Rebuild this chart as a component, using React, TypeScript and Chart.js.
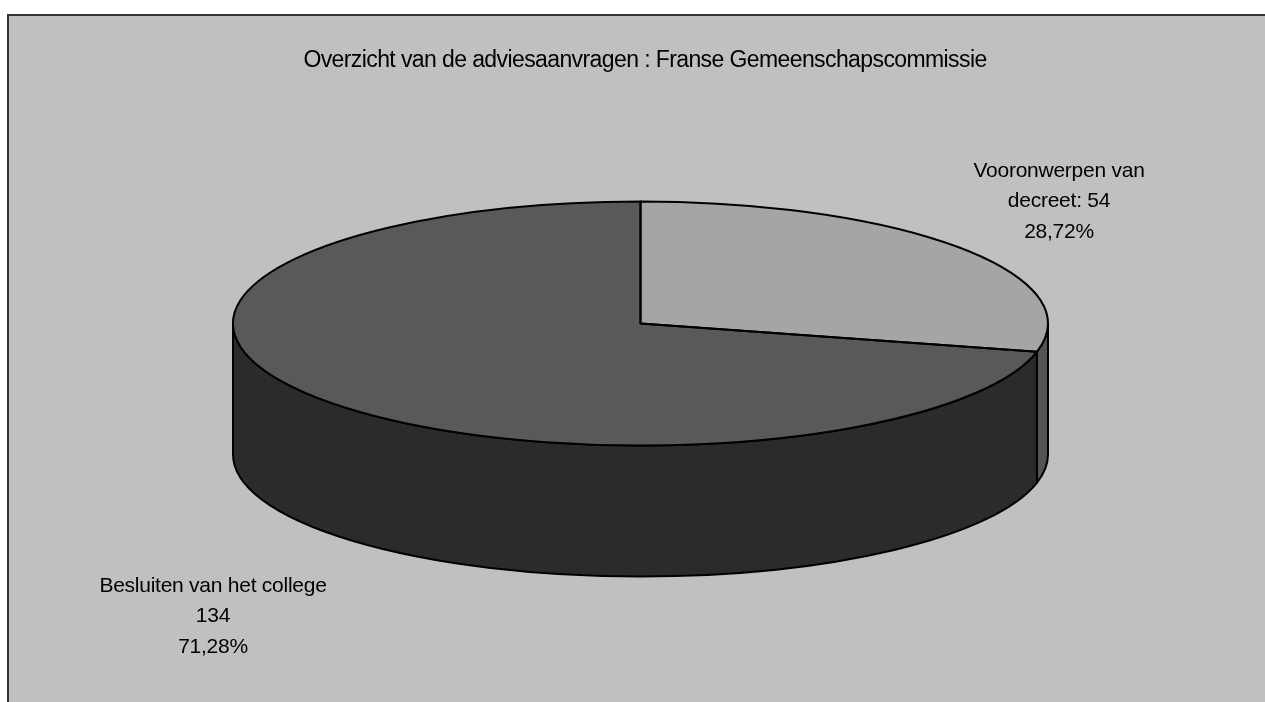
import React, { useEffect, useRef } from "react";
import { Chart, registerables } from "chart.js";

Chart.register(...registerables);

// ---- data ----
const TITLE = "Overzicht van de adviesaanvragen : Franse Gemeenschapscommissie";
const CATEGORIES = ["Vooronwerpen van decreet", "Besluiten van het college"];
const VALUES = [54, 134];
const TOTAL = VALUES.reduce((a, b) => a + b, 0);
const PERCENTS = VALUES.map((v) => ((v / TOTAL) * 100).toFixed(2).replace(".", ",") + "%");
const LABEL_LINES = [
  ["Vooronwerpen van", "decreet: " + VALUES[0], PERCENTS[0]],
  ["Besluiten van het college", String(VALUES[1]), PERCENTS[1]],
];

// ---- style ----
const TOP_COLORS = ["#a5a5a5", "#595959"];
const SIDE_COLORS = ["#545454", "#2b2b2b"];
const BG = "#c0c0c0";
const FONT = '"Liberation Sans", Arial, sans-serif';
const GEOM = { cx: 640.5, cy: 323.5, rx: 407.5, ry: 122, depth: 131 };
const W = 1265;
const H = 702;
const PIE_BOX = 250;

const pie3d = {
  id: "pie3d",
  beforeDatasetsDraw(chart: any) {
    const arcs = chart.getDatasetMeta(0).data;
    chart.$pieSaved = false;
    if (!arcs.length) return;
    const { x: cx, y: cy, outerRadius: R } = arcs[0];
    const ctx = chart.ctx;
    const { rx, ry, depth } = GEOM;
    ctx.save();
    ctx.lineWidth = 2;
    ctx.strokeStyle = "#000";
    ctx.lineJoin = "round";
    arcs.forEach((arc: any, i: number) => {
      const s = arc.startAngle;
      const e = arc.endAngle;
      const segs: number[][] = [];
      for (const k of [-2, 0, 2]) {
        const off = k * Math.PI;
        const a = Math.max(s + off, 0);
        const b = Math.min(e + off, Math.PI);
        if (b > a) segs.push([a, b]);
      }
      segs.forEach(([a, b]) => {
        ctx.beginPath();
        ctx.ellipse(cx, cy, rx, ry, 0, a, b, false);
        ctx.lineTo(cx + rx * Math.cos(b), cy + depth + ry * Math.sin(b));
        ctx.ellipse(cx, cy + depth, rx, ry, 0, b, a, true);
        ctx.closePath();
        ctx.fillStyle = SIDE_COLORS[i];
        ctx.fill();
        ctx.stroke();
      });
    });
    ctx.restore();
    ctx.save();
    ctx.translate(cx, cy);
    ctx.scale(rx / R, ry / R);
    ctx.translate(-cx, -cy);
    chart.$pieSaved = true;
  },
  afterDatasetsDraw(chart: any) {
    const ctx = chart.ctx;
    if (chart.$pieSaved) ctx.restore();
    chart.$pieSaved = false;
    const arcs = chart.getDatasetMeta(0).data;
    if (!arcs.length) return;
    const { x: cx, y: cy } = arcs[0];
    const { rx, ry } = GEOM;
    ctx.save();
    ctx.lineWidth = 2;
    ctx.strokeStyle = "#000";
    ctx.lineJoin = "round";
    arcs.forEach((arc: any) => {
      ctx.beginPath();
      ctx.moveTo(cx, cy);
      ctx.ellipse(cx, cy, rx, ry, 0, arc.startAngle, arc.endAngle, false);
      ctx.closePath();
      ctx.stroke();
    });
    ctx.restore();
  },
  afterDraw(chart: any) {
    const ctx = chart.ctx;
    ctx.save();
    ctx.fillStyle = "#000";
    ctx.textAlign = "center";
    ctx.textBaseline = "alphabetic";
    ctx.font = "23px " + FONT;
    try { (ctx as any).letterSpacing = "-0.6px"; } catch (e) {}
    ctx.fillText(TITLE, 645, 67);
    ctx.font = "21px " + FONT;
    try { (ctx as any).letterSpacing = "-0.25px"; } catch (e) {}
    const anchors = [
      { x: 1059, y: [177, 207, 238] },
      { x: 213, y: [592, 622, 653] },
    ];
    LABEL_LINES.forEach((lines, i) => {
      lines.forEach((t, j) => ctx.fillText(t, anchors[i].x, anchors[i].y[j]));
    });
    ctx.restore();
  },
};

export default function App() {
  const ref = useRef<HTMLCanvasElement>(null);
  useEffect(() => {
    if (!ref.current) return;
    const chart = new Chart(ref.current, {
      type: "pie",
      data: {
        labels: CATEGORIES,
        datasets: [
          {
            data: VALUES,
            backgroundColor: TOP_COLORS,
            borderWidth: 0,
            hoverOffset: 0,
            offset: 0,
            clip: false as any,
          },
        ],
      },
      options: {
        responsive: false,
        animation: false,
        events: [],
        layout: {
          padding: {
            left: GEOM.cx - PIE_BOX,
            right: W - GEOM.cx - PIE_BOX,
            top: GEOM.cy - PIE_BOX,
            bottom: H - GEOM.cy - PIE_BOX,
          },
        },
        plugins: {
          legend: { display: false },
          tooltip: { enabled: false },
          title: { display: false },
        },
      },
      plugins: [pie3d],
    });
    return () => chart.destroy();
  }, []);
  return (
    <div style={{ position: "fixed", left: 0, top: 0, width: W, height: H, overflow: "hidden", background: "#fff" }}>
      <div
        style={{
          position: "absolute",
          left: 7,
          top: 14,
          width: W + 20,
          height: H + 20,
          background: BG,
          borderLeft: "2px solid #333",
          borderTop: "2px solid #333",
        }}
      />
      <canvas ref={ref} width={W} height={H} style={{ position: "absolute", left: 0, top: 0 }} />
    </div>
  );
}
